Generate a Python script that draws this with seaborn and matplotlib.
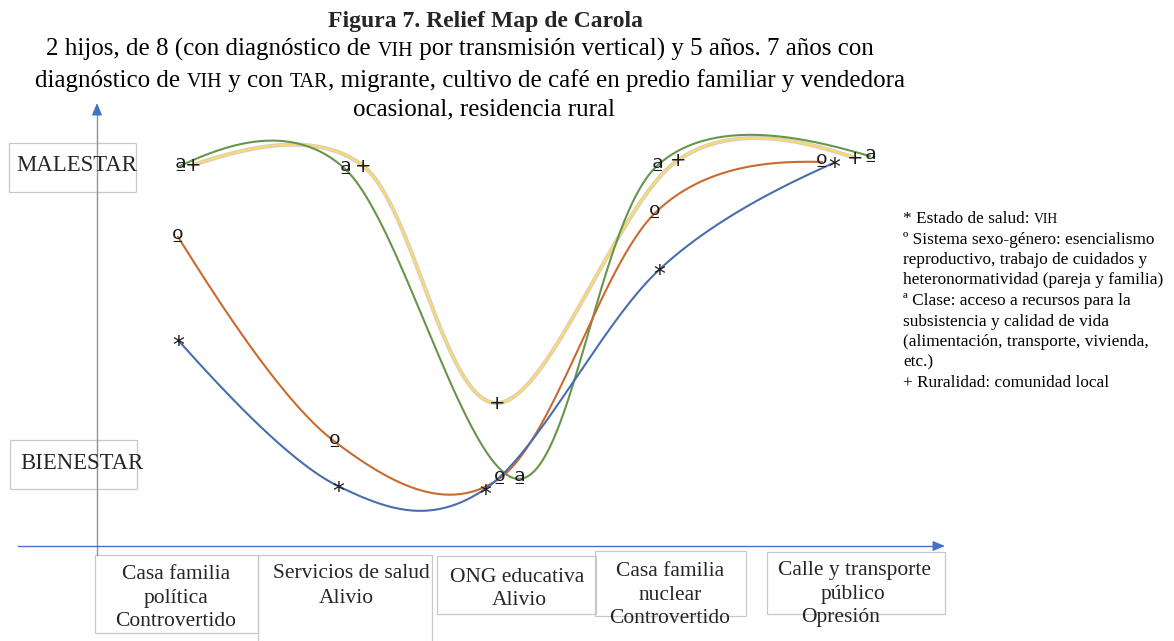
import numpy as np
import pandas as pd
import seaborn as sns
import matplotlib
matplotlib.use("Agg")
import matplotlib.pyplot as plt
from matplotlib.patches import Rectangle
import matplotlib.patheffects as pe

# ---------------- data ----------------
locations = ["Casa familia\npolítica\nControvertido",
             "Servicios de salud\nAlivio",
             "ONG educativa\nAlivio",
             "Casa familia\nnuclear\nControvertido",
             "Calle y transporte\npúblico\nOpresión"]
levels = ["BIENESTAR", "MALESTAR"]

# position along the route (0-100) and level (0 = bienestar, 100 = malestar)
salud_x = [9.55, 28.42, 45.75, 66.27, 86.91]
salud_y = [46.7, 13.6, 12.9, 62.6, 86.9]
genero_x = [9.55, 28.07, 47.52, 65.80, 85.50]
genero_y = [70.1, 23.6, 15.4, 75.5, 87.1]
clase_x = [9.79, 29.25, 49.76, 66.04, 91.16]
clase_y = [86.2, 85.5, 15.2, 86.2, 88.4]
rural_x = [11.32, 31.37, 47.17, 68.51, 89.39]
rural_y = [86.4, 86.2, 32.4, 87.5, 88.0]

legend_lines = [
    [("* Estado de salud: ", 0), ("VIH", 1)],
    [("º Sistema sexo-género: esencialismo", 0)],
    [("reproductivo, trabajo de cuidados y", 0)],
    [("heteronormatividad (pareja y familia)", 0)],
    [("ª Clase: acceso a recursos para la", 0)],
    [("subsistencia y calidad de vida", 0)],
    [("(alimentación, transporte, vivienda,", 0)],
    [("etc.)", 0)],
    [("+ Ruralidad: comunidad local", 0)],
]
title = "Figura 7. Relief Map de Carola"
subtitle_lines = [
    [("2 hijos, de 8 (con diagnóstico de ", 0), ("VIH", 1),
     (" por transmisión vertical) y 5 años. 7 años con", 0)],
    [("diagnóstico de ", 0), ("VIH", 1), (" y con ", 0), ("TAR", 1),
     (", migrante, cultivo de café en predio familiar y vendedora", 0)],
    [("ocasional, residencia rural", 0)],
]

# ---------------- style ----------------
sns.set_theme(style="white")
plt.rcParams["font.family"] = ["Liberation Serif", "DejaVu Serif"]

W, H = 1174, 641
fig = plt.figure(figsize=(W / 100, H / 100), dpi=100)
bg = fig.add_axes([0, 0, 1, 1])
bg.set_xlim(0, W)
bg.set_ylim(H, 0)
bg.axis("off")

ax = fig.add_axes([97 / W, (H - 546) / H, 848 / W, 441 / H])
ax.set_xlim(0, 100)
ax.set_ylim(0, 100)
ax.axis("off")

renderer = fig.canvas.get_renderer()


def text_w(s, **kw):
    t = bg.text(0, 0, s, **kw)
    w = t.get_window_extent(renderer).width
    t.remove()
    return w


def rich(pieces, x, y, size, align="center", sc_ratio=0.8, **kw):
    widths = []
    for s, sc in pieces:
        fs = size * sc_ratio if sc else size
        w = text_w("|" + s + "|", fontsize=fs, **kw) - text_w("||", fontsize=fs, **kw)
        widths.append((fs, w))
    total = sum(w for _, w in widths)
    x0 = x - total / 2 if align == "center" else x
    for (s, sc), (fs, w) in zip(pieces, widths):
        bg.text(x0, y, s, fontsize=fs, ha="left", va="baseline", color="black", **kw)
        x0 += w


def smooth(xs, ys, k=1 / 6, endf=1 / 3, n=60):
    P = np.column_stack([xs, ys]).astype(float)
    m = len(P)
    T = [None] * m
    for i in range(1, m - 1):
        T[i] = (P[i + 1] - P[i - 1]) * k
    out = []
    for i in range(m - 1):
        c1 = P[i] + T[i] if T[i] is not None else None
        c2 = P[i + 1] - T[i + 1] if T[i + 1] is not None else None
        if c1 is None:
            c1 = P[i] + (c2 - P[i]) * endf
        if c2 is None:
            c2 = P[i + 1] + (c1 - P[i + 1]) * endf
        t = np.linspace(0, 1, n)[:, None]
        B = ((1 - t) ** 3) * P[i] + 3 * ((1 - t) ** 2) * t * c1 + 3 * (1 - t) * t ** 2 * c2 + t ** 3 * P[i + 1]
        out.append(B if i == 0 else B[1:])
    B = np.vstack(out)
    return B[:, 0], B[:, 1]


series = [
    ("+", rural_x, rural_y, "#FFD966", True),
    ("ª", clase_x, clase_y, "#67954A", False),
    ("º", genero_x, genero_y, "#C96B2F", False),
    ("*", salud_x, salud_y, "#4A6EAD", False),
]
for sym, xs, ys, col, halo in series:
    sx, sy = smooth(xs, ys)
    kw = {}
    if halo:
        kw["path_effects"] = [pe.Stroke(linewidth=3.0, foreground="#CFCFCF"), pe.Normal()]
    sns.lineplot(x=sx, y=sy, sort=False, estimator=None, color=col, lw=1.5,
                 ax=ax, legend=False, **kw)

# marker glyph size (pt) and baseline drop below the point (pt)
msize = {"+": 14, "ª": 18, "º": 18, "*": 17}
mdrop = {"+": 4.5, "ª": 7.5, "º": 7.5, "*": 9.0}
for sym, xs, ys, col, halo in series:
    for x, y in zip(xs, ys):
        ax.annotate(sym, xy=(x, y), xytext=(0, -mdrop[sym]), textcoords="offset points",
                    ha="center", va="baseline", fontsize=msize[sym],
                    family="DejaVu Sans", color="#1a1a1a", zorder=5,
                    annotation_clip=False)

# ---------------- axes arrows ----------------
axis_col = "#8496B0"
arrow_col = "#4472C4"
bg.plot([97, 97], [555, 110], color=axis_col, lw=1.0)
bg.annotate("", xy=(97, 103), xytext=(97, 114),
            arrowprops=dict(arrowstyle="-|>,head_length=0.6,head_width=0.25",
                            color=arrow_col, lw=1.0, shrinkA=0, shrinkB=0))
bg.plot([18, 938], [546, 546], color=arrow_col, lw=1.0)
bg.annotate("", xy=(945, 546), xytext=(934, 546),
            arrowprops=dict(arrowstyle="-|>,head_length=0.6,head_width=0.25",
                            color=arrow_col, lw=1.0, shrinkA=0, shrinkB=0))

# ---------------- boxes ----------------
box_col = "#C8C8C8"


def box(x0, y0, x1, y1):
    bg.add_patch(Rectangle((x0, y0), x1 - x0, y1 - y0, fill=False,
                           edgecolor=box_col, lw=0.9))


box(9, 143, 136, 192)
box(10, 440, 137, 489)
bg.text(77, 171, levels[1], fontsize=16.4, ha="center", va="baseline")
bg.text(82, 469, levels[0], fontsize=16.4, ha="center", va="baseline")

cat_boxes = [(95, 555, 258, 633), (258, 555, 432, 660), (437, 556, 596, 614),
             (595, 551, 746, 616), (767, 552, 945, 614)]
cat_lines = [[(176, 579), (176, 603), (176, 626)],
             [(351, 578), (346, 603)],
             [(517, 582), (519, 605)],
             [(670, 576), (670, 600), (670, 623)],
             [(855, 575), (853, 599), (841, 622)]]
for (x0, y0, x1, y1), lab, pos in zip(cat_boxes, locations, cat_lines):
    box(x0, y0, x1, y1)
    for s, (cx, by) in zip(lab.split("\n"), pos):
        bg.text(cx, by, s, fontsize=15.5, ha="center", va="baseline")

# ---------------- titles ----------------
bg.text(486, 27, title, fontsize=17, fontweight="bold", ha="center", va="baseline")
for pieces, cx, by in zip(subtitle_lines, [460, 470, 484], [56, 87, 115]):
    rich(pieces, cx, by, 18)

# ---------------- legend text ----------------
for i, pieces in enumerate(legend_lines):
    rich(pieces, 903, 223 + i * 20.5, 12.4, align="left")

fig.savefig("out.png", dpi=100)
